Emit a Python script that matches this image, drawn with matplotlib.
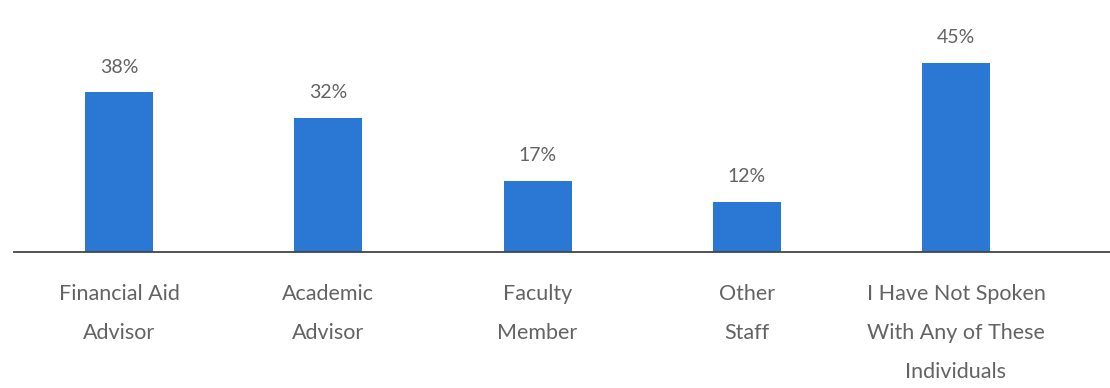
import matplotlib
matplotlib.use("Agg")
import matplotlib.pyplot as plt

# survey: who did you speak with about paying for school
categories = [
    "Financial Aid\nAdvisor",
    "Academic\nAdvisor",
    "Faculty\nMember",
    "Other\nStaff",
    "I Have Not Spoken\nWith Any of These\nIndividuals",
]
percents = [38, 32, 17, 12, 45]

BAR_COLOR = "#2b78d4"
TEXT_COLOR = "#636363"

plt.rcParams["font.family"] = ["Lato", "DejaVu Sans"]

fig = plt.figure(figsize=(11.10, 3.88), dpi=100)
ax = fig.add_axes([14 / 1110, 1 - 252 / 388, 1096 / 1110, 252 / 388])

xs = list(range(len(categories)))
bars = ax.bar(xs, percents, width=0.325, color=BAR_COLOR, zorder=2)

for x, p in zip(xs, percents):
    ax.annotate(f"{p}%", xy=(x, p), xytext=(0, 12), textcoords="offset points",
                ha="center", va="bottom", fontsize=14, color=TEXT_COLOR)

for x, name in zip(xs, categories):
    ax.annotate(name, xy=(x, 0), xycoords=("data", "axes fraction"),
                xytext=(0, -23), textcoords="offset points",
                ha="center", va="top", fontsize=15.5, color=TEXT_COLOR,
                linespacing=2.2)

ax.set_xlim(-0.502, 4.736)
ax.set_ylim(0, 60)
for side in ("top", "right", "left"):
    ax.spines[side].set_visible(False)
ax.spines["bottom"].set_color("#444444")
ax.spines["bottom"].set_linewidth(1.3)
ax.set_xticks([])
ax.set_yticks([])

fig.savefig("out.png", dpi=100, facecolor="white")
